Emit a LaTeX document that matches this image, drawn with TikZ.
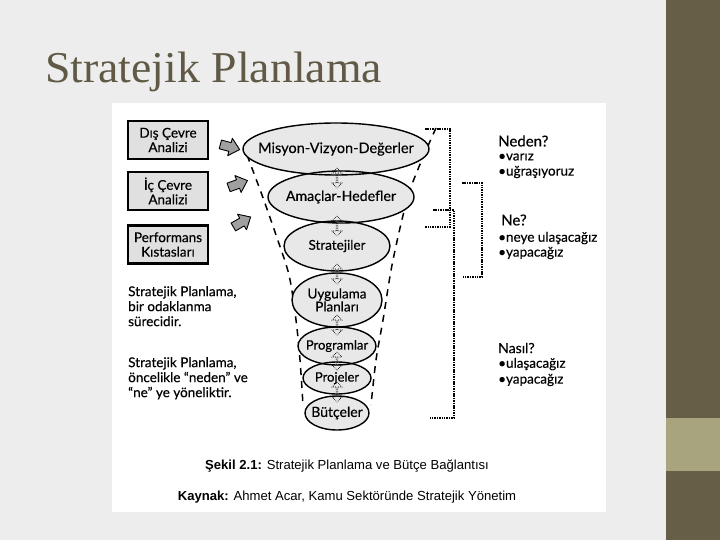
\documentclass[tikz,border=0pt]{standalone}
\usepackage{fontspec}
\setmainfont{Liberation Serif}
\newfontfamily\gill[FakeBold=0.35]{Lato}
\newfontfamily\arial{Liberation Sans}
\usetikzlibrary{shapes.arrows,shapes.geometric}
\definecolor{bgc}{RGB}{237,237,237}
\definecolor{band}{RGB}{103,94,71}
\definecolor{bandl}{RGB}{168,165,126}
\definecolor{titlec}{RGB}{95,89,70}
\definecolor{ellf}{RGB}{232,232,232}
\definecolor{boxf}{RGB}{224,224,224}
\definecolor{arrf}{RGB}{160,160,160}
\tikzset{garrowpic/.pic={\draw[line width=0.9pt,fill=arrf,line join=round] (-10,-4.5) -- (0,-4.5) -- (0,-9) -- (10,0) -- (0,9) -- (0,4.5) -- (-10,4.5) -- cycle;}}
\begin{document}
\begin{tikzpicture}[x=1pt,y=-1pt,
 ellfill/.style={ellipse,fill=ellf,inner sep=0pt},
 elldraw/.style={ellipse,draw=black,line width=1.4pt,inner sep=0pt},
 etxt/.style={font=\gill\fontsize{13.5}{14}\selectfont,align=center,inner sep=0pt},
 lbox/.style={draw=black,line width=2.5pt,fill=boxf,minimum width=80pt,minimum height=38pt,font=\gill\fontsize{13.5}{14.5}\selectfont,align=center,inner sep=0pt},
 darr/.style={double arrow,draw=black,densely dotted,line width=0.7pt,minimum height=20pt,minimum width=10pt,shape border rotate=90,inner sep=0pt,double arrow head extend=2pt},
 brk/.style={line width=2.3pt,dash pattern=on 1.5pt off 0.9pt},
 funnel/.style={line width=1.5pt,dash pattern=on 7pt off 6pt},
 rtxt/.style={anchor=west,font=\gill\fontsize{15}{15}\selectfont,inner sep=0pt},
 btxt/.style={anchor=west,font=\gill\fontsize{13.5}{14}\selectfont,inner sep=0pt},
 ltxt/.style={anchor=north west,align=left,font=\gill\fontsize{13.5}{15}\selectfont,inner sep=0pt},
 captxt/.style={font=\arial\fontsize{13.1}{14}\selectfont,inner sep=0pt}
]
\useasboundingbox (0,0) rectangle (720,540);
\fill[bgc] (0,0) rectangle (720,540);
\fill[band] (666,0) rectangle (720,540);
\fill[bandl] (666,418) rectangle (720,471);
\node[anchor=base west,text=titlec,font=\fontsize{44}{44}\selectfont,inner sep=0pt] (title) at (45,83) {\scalebox{1.04}[1]{Stratejik Planlama}};
\fill[white] (112,103) rectangle (606,512);

% left boxes
\node[lbox] (dis) at (168,140) {Dış Çevre\\Analizi};
\node[lbox] (ic) at (168,191) {İç Çevre\\Analizi};
\node[lbox] (perf) at (168,244.5) {Performans\\Kıstasları};

% gray arrows
\pic[rotate=-15] at (230,147) {garrowpic};
\pic[rotate=20] at (238,184) {garrowpic};
\pic[rotate=30] at (242,222) {garrowpic};

% funnel
\draw[funnel] plot[smooth] coordinates {(247,155) (262,195) (276,235) (289,275) (296,320) (300,360) (303,405)};
\draw[funnel] plot[smooth] coordinates {(436,128) (410,190) (393,260) (383,320) (376,360) (371,405)};

% ellipse fills
\foreach \n/\x/\y/\rx/\ry in {m/336/149/93/26, a/341/197/73/26, s/337/246/53/25, u/337/300/45/27, p/337/346/39/19, pj/337/378/34/16, b/337/413/32/17}{
  \node[ellfill,minimum width=2*\rx pt,minimum height=2*\ry pt] (\n) at (\x,\y) {};
}
\foreach \n/\x/\y/\rx/\ry in {m/336/149/93/26, a/341/197/73/26, s/337/246/53/25, u/337/300/45/27, p/337/346/39/19, pj/337/378/34/16, b/337/413/32/17}{
  \node[elldraw,minimum width=2*\rx pt,minimum height=2*\ry pt] at (\x,\y) {};
}
% small double arrows
\node[darr] (d1) at (337,178) {};
\node[darr] (d2) at (337,226) {};
\node[darr] (d3) at (337,274) {};
\node[darr] (d4) at (337,325) {};
\node[darr,minimum height=18pt] (d5) at (337,361) {};
\node[darr] (d6) at (337,392) {};

% ellipse texts
\node[etxt,font=\gill\fontsize{14.5}{15}\selectfont] at (m) {Misyon-Vizyon-Değerler};
\node[etxt,font=\gill\fontsize{14.2}{15}\selectfont] at (a) {Amaçlar-Hedefler};
\node[etxt] at (s) {Stratejiler};
\node[etxt,font=\gill\fontsize{13.5}{13}\selectfont] at (u) {Uygulama\\Planları};
\node[etxt,font=\gill\fontsize{13}{13}\selectfont] at (p) {Programlar};
\node[etxt,font=\gill\fontsize{13}{13}\selectfont] at (pj) {Projeler};
\node[etxt,font=\gill\fontsize{14}{14}\selectfont] at (b) {Bütçeler};

% brackets
\draw[brk] (425,129) -- (450,129) -- (450,227) -- (425,227);
\draw[brk] (433,210) -- (454,210) -- (454,418) -- (430,418);
\draw[brk] (462,183) -- (482,183) -- (482,277) -- (462,277);

% right texts
\node[rtxt] (neden) at (498,141) {Neden?};
\node[btxt] at (498,157) {•varız};
\node[btxt] at (498,172) {•uğraşıyoruz};
\node[rtxt] (ne) at (501,220) {Ne?};
\node[btxt] at (498,238) {•neye ulaşacağız};
\node[btxt] at (498,253) {•yapacağız};
\node[rtxt,font=\gill\fontsize{14}{14}\selectfont] (nasil) at (498,348) {Nasıl?};
\node[btxt] at (498,364) {•ulaşacağız};
\node[btxt] at (498,380) {•yapacağız};

% left paragraphs
\node[ltxt] (p1) at (128,286) {Stratejik Planlama,\\bir odaklanma\\sürecidir.};
\node[ltxt] (p2) at (128,357) {Stratejik Planlama,\\öncelikle “neden” ve\\“ne” ye yöneliktir.};

% captions
\node[captxt] (c1) at (347,466) {\textbf{Şekil 2.1:} Stratejik Planlama ve Bütçe Bağlantısı};
\node[captxt] (c2) at (347,497) {\textbf{Kaynak:} Ahmet Acar, Kamu Sektöründe Stratejik Yönetim};
\end{tikzpicture}
\end{document}
